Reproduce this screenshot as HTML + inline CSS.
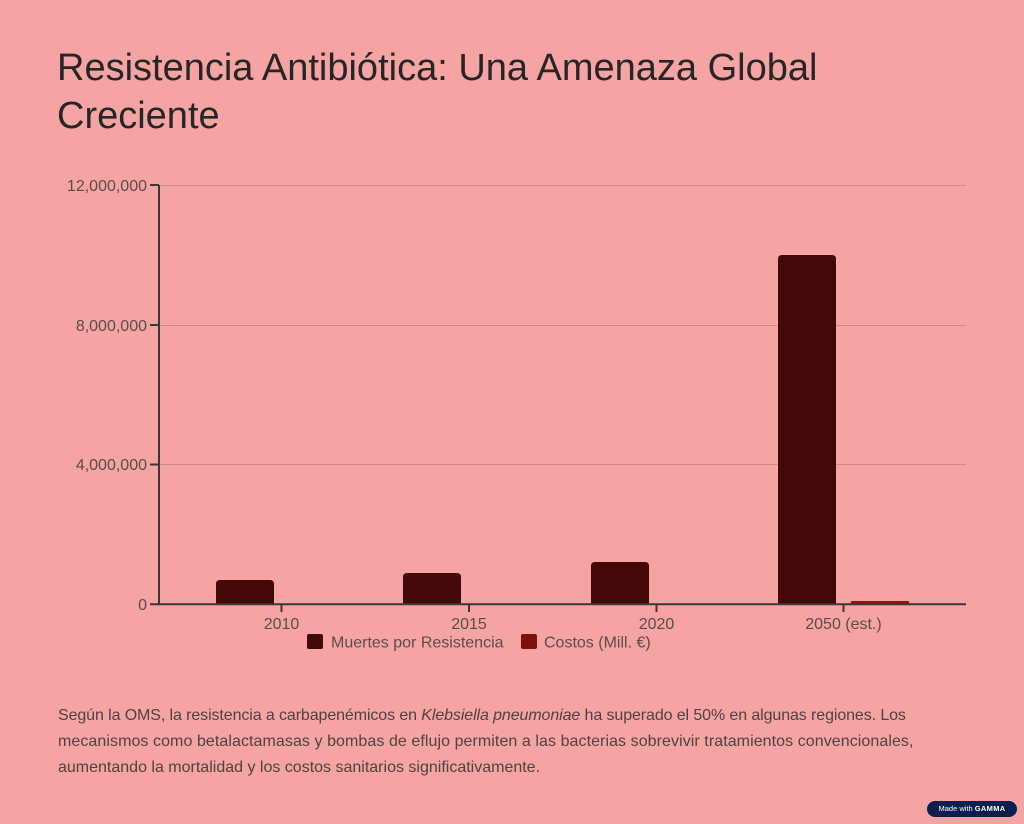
<!DOCTYPE html>
<html>
<head>
<meta charset="utf-8">
<style>
  html,body{margin:0;padding:0;}
  body{width:1024px;height:824px;background:#f5a3a3;position:relative;overflow:hidden;font-family:"Liberation Sans",sans-serif;}
  .title{position:absolute;left:57px;top:44px;font-size:38px;line-height:48px;color:#262626;font-weight:normal;margin:0;white-space:nowrap;}
  .para{position:absolute;left:58px;top:703px;font-size:16px;line-height:26px;color:#4f4242;white-space:nowrap;}
  .l1{letter-spacing:-0.1px;}
  .l2{letter-spacing:0.07px;}
  .badge{position:absolute;left:927px;top:801px;width:90px;height:16px;border-radius:8px;background:#0b1f4f;color:#fff;font-size:7.5px;line-height:16px;text-align:center;}
  .badge b{font-weight:bold;letter-spacing:0.3px;}
  svg{position:absolute;left:0;top:0;}
</style>
</head>
<body>
<h1 class="title">Resistencia Antibiótica: Una Amenaza Global<br>Creciente</h1>

<svg width="1024" height="824" viewBox="0 0 1024 824" xmlns="http://www.w3.org/2000/svg">
  <!-- gridlines -->
  <g stroke="#d08a8a" stroke-width="1">
    <line x1="159" y1="185.5" x2="966" y2="185.5"/>
    <line x1="159" y1="325.5" x2="966" y2="325.5"/>
    <line x1="159" y1="464.5" x2="966" y2="464.5"/>
  </g>
  <!-- bars Muertes -->
  <g fill="#440808">
    <path d="M216 604 V584 Q216 580 220 580 H270 Q274 580 274 584 V604 Z"/>
    <path d="M403 604 V577 Q403 573 407 573 H457 Q461 573 461 577 V604 Z"/>
    <path d="M591 604 V566 Q591 562 595 562 H645 Q649 562 649 566 V604 Z"/>
    <path d="M778 604 V259 Q778 255 782 255 H832 Q836 255 836 259 V604 Z"/>
  </g>
  <!-- bar Costos -->
  <rect x="851" y="601" width="58" height="3" rx="1" fill="#8a1414"/>
  <!-- axes -->
  <g stroke="#3d3838" stroke-width="2" fill="none">
    <line x1="159" y1="185" x2="159" y2="605"/>
    <line x1="150" y1="604.3" x2="966" y2="604.3"/>
    <line x1="150" y1="185" x2="159" y2="185"/>
    <line x1="150" y1="325" x2="159" y2="325"/>
    <line x1="150" y1="464.5" x2="159" y2="464.5"/>
    <line x1="281.5" y1="604" x2="281.5" y2="612"/>
    <line x1="469" y1="604" x2="469" y2="612"/>
    <line x1="656.5" y1="604" x2="656.5" y2="612"/>
    <line x1="843.5" y1="604" x2="843.5" y2="612"/>
  </g>
  <!-- y labels -->
  <g font-family="Liberation Sans, sans-serif" font-size="16" fill="#5a4d4d" text-anchor="end">
    <text x="147" y="191">12,000,000</text>
    <text x="147" y="331">8,000,000</text>
    <text x="147" y="470">4,000,000</text>
    <text x="147" y="610">0</text>
  </g>
  <!-- x labels -->
  <g font-family="Liberation Sans, sans-serif" font-size="16" fill="#5a4d4d" text-anchor="middle">
    <text x="281.5" y="629">2010</text>
    <text x="469" y="629">2015</text>
    <text x="656.5" y="629">2020</text>
    <text x="843.5" y="629">2050 (est.)</text>
  </g>
  <!-- legend -->
  <rect x="307" y="634" width="16" height="15" rx="2" fill="#440808"/>
  <text x="331" y="647.5" font-family="Liberation Sans, sans-serif" font-size="16" fill="#5a4d4d">Muertes por Resistencia</text>
  <rect x="521" y="634" width="16" height="15" rx="2" fill="#7f1010"/>
  <text x="544" y="647.5" font-family="Liberation Sans, sans-serif" font-size="16" fill="#5a4d4d">Costos (Mill. €)</text>
</svg>

<div class="para"><span class="l1">Según la OMS, la resistencia a carbapenémicos en <i>Klebsiella pneumoniae</i> ha superado el 50% en algunas regiones. Los</span><br><span class="l2">mecanismos como betalactamasas y bombas de eflujo permiten a las bacterias sobrevivir tratamientos convencionales,</span><br>aumentando la mortalidad y los costos sanitarios significativamente.</div>

<div class="badge">Made with <b>GAMMA</b></div>
</body>
</html>
